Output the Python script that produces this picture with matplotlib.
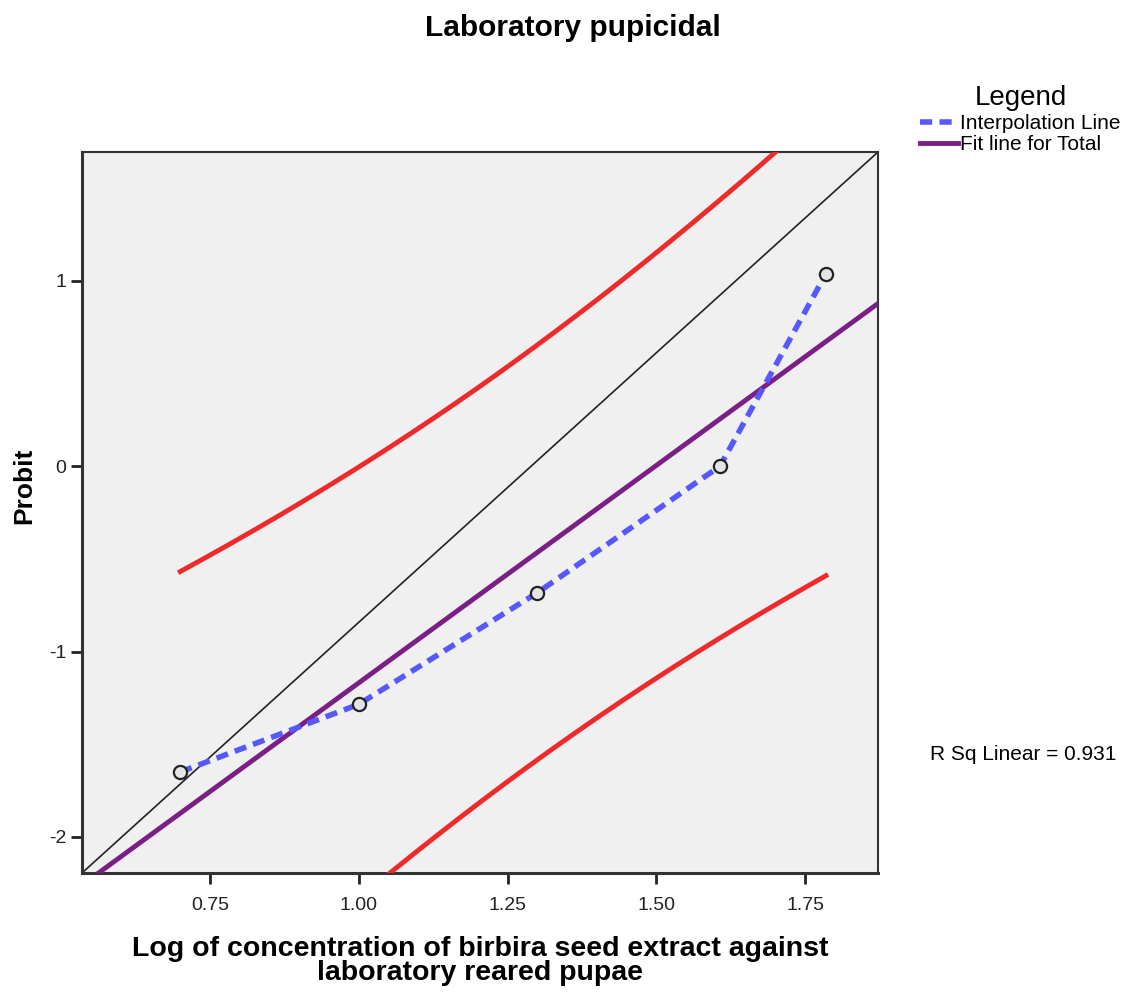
import numpy as np
import matplotlib
matplotlib.use("Agg")
import matplotlib.pyplot as plt

plt.rcParams["font.family"] = ["Liberation Sans", "DejaVu Sans"]
plt.rcParams["axes.unicode_minus"] = False

# Log concentration vs probit
log_conc = np.array([0.70, 1.00, 1.30, 1.607, 1.785])
probit = np.array([-1.65, -1.285, -0.683, 0.0, 1.038])
x_ticks = [0.75, 1.00, 1.25, 1.50, 1.75]
y_ticks = [-2, -1, 0, 1]
r_sq_label = "R Sq Linear = 0.931"
t_crit = 3.182  # t(0.975, df=3)

# linear fit and 95% individual prediction interval
n = len(log_conc)
b, a = np.polyfit(log_conc, probit, 1)
resid = probit - (a + b * log_conc)
s = np.sqrt(np.sum(resid ** 2) / (n - 2))
sxx = np.sum((log_conc - log_conc.mean()) ** 2)

fig = plt.figure(figsize=(11.32, 9.92), dpi=100)
ax = fig.add_axes([82 / 1132, 1 - 873 / 992, 796 / 1132, 721 / 992])
ax.set_facecolor("#f0f0f0")
xlim = (0.535, 1.8725)
ylim = (-2.195, 1.695)
ax.set_xlim(xlim)
ax.set_ylim(ylim)

# diagonal reference line corner to corner
ax.plot([0, 1], [0, 1], transform=ax.transAxes, color="#222222", lw=1.2, zorder=2)

# fit line across full range
xf = np.linspace(xlim[0], xlim[1], 200)
ax.plot(xf, a + b * xf, color="#7b1f86", lw=3.5, zorder=3, label="Fit line for Total")

# prediction interval over data range
xc = np.linspace(log_conc.min(), log_conc.max(), 200)
half = t_crit * s * np.sqrt(1 + 1 / n + (xc - log_conc.mean()) ** 2 / sxx)
ax.plot(xc, a + b * xc + half, color="#ee2a2a", lw=3.5, zorder=3)
ax.plot(xc, a + b * xc - half, color="#ee2a2a", lw=3.5, zorder=3)

# interpolation line
ax.plot(log_conc, probit, color="#5858ff", lw=4, ls=(0, (2.2, 1.3)), zorder=4,
        label="Interpolation Line")
ax.scatter(log_conc, probit, s=90, facecolor="#e4e4e4", edgecolor="#222222",
           lw=1.6, zorder=5)

ax.set_xticks(x_ticks)
ax.set_xticklabels([f"{v:.2f}" for v in x_ticks])
ax.set_yticks(y_ticks)
ax.tick_params(direction="out", length=8, width=2, labelsize=14, colors="#222222")
ax.tick_params(axis="x", pad=9)
for sp in ax.spines.values():
    sp.set_color("#333333")
    sp.set_linewidth(1.5)
ax.spines["left"].set_linewidth(2.2)
ax.spines["bottom"].set_linewidth(2.2)

ax.set_ylabel("Probit", fontsize=19, fontweight="bold")
ax.yaxis.set_label_coords(-46 / 796, (873 - 486) / 721)
ax.set_xlabel("Log of concentration of birbira seed extract against\nlaboratory reared pupae",
              fontsize=20.5, fontweight="bold", linespacing=0.85)
ax.xaxis.set_label_coords(0.5, -(961 - 873) / 721)
ax.xaxis.label.set_va("center")
fig.text(573 / 1132, 1 - 28 / 992, "Laboratory pupicidal", ha="center", va="center",
         fontsize=21.5, fontweight="bold")

handles, labels = ax.get_legend_handles_labels()
leg = fig.legend(handles[::-1], labels[::-1], loc="upper left",
                 bbox_to_anchor=(910 / 1132, 1 - 75 / 992), frameon=False,
                 title="Legend", fontsize=15, title_fontsize=20,
                 handlelength=1.8, handletextpad=0.1, labelspacing=0.12, borderpad=0)

fig.text(930 / 1132, 1 - 755 / 992, r_sq_label, ha="left", va="center", fontsize=15)

fig.savefig("out.png", dpi=100)
